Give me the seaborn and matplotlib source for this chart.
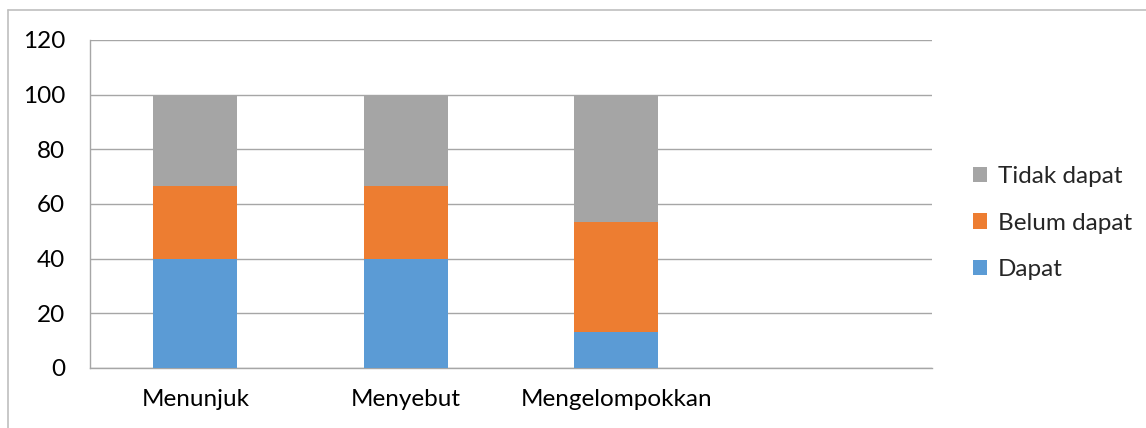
import matplotlib
matplotlib.use("Agg")
import matplotlib.pyplot as plt
import numpy as np
import pandas as pd
import seaborn as sns
from matplotlib.lines import Line2D
from matplotlib.patches import Patch
from matplotlib.ticker import FixedLocator

categories = ["Menunjuk", "Menyebut", "Mengelompokkan"]
slot_order = ["Menunjuk", "Menyebut", "Mengelompokkan", " "]
dapat = [40.0, 40.0, 13.3]
belum_dapat = [26.7, 26.7, 40.0]
tidak_dapat = [33.3, 33.3, 46.7]
series_names = ["Dapat", "Belum dapat", "Tidak dapat"]
series_colors = ["#5B9BD5", "#ED7D31", "#A5A5A5"]
y_ticks = [0, 20, 40, 60, 80, 100, 120]

GRID = "#A6A6A6"
TEXT = "#000000"
FS = 17.5

sns.set_theme(style="white")
plt.rcParams["font.family"] = ["Lato", "DejaVu Sans"]

fig = plt.figure(figsize=(11.46, 4.28), dpi=100)
ax = fig.add_axes([90 / 1146, 1 - 368 / 428, (932 - 90) / 1146, (368 - 40) / 428])

# stacked by drawing cumulative totals from the top segment down
stack = np.cumsum(np.array([dapat, belum_dapat, tidak_dapat]), axis=0)
for i in [2, 1, 0]:
    df = pd.DataFrame({"cat": categories, "val": stack[i]})
    sns.barplot(data=df, x="cat", y="val", order=slot_order, color=series_colors[i],
                width=0.4, saturation=1, linewidth=0, ax=ax, zorder=3)

ax.set_xlim(-0.5, 3.5)
ax.set_ylim(0, 120)
ax.set_yticks(y_ticks)
ax.set_xlabel("")
ax.set_ylabel("")
ax.grid(axis="y", color=GRID, linewidth=1.0, zorder=0)
ax.set_axisbelow(True)

for side in ["top", "right"]:
    ax.spines[side].set_visible(False)
for side in ["left", "bottom"]:
    ax.spines[side].set_color(GRID)
    ax.spines[side].set_linewidth(1.0)

ax.xaxis.set_minor_locator(FixedLocator([-0.5, 0.5, 1.5, 2.5, 3.5]))
ax.tick_params(axis="x", which="major", length=0, pad=15, labelsize=FS, labelcolor=TEXT)
ax.tick_params(axis="x", which="minor", length=5, width=1, color=GRID, direction="out")
ax.tick_params(axis="y", length=6, width=1, color=GRID, direction="out", pad=12,
               labelsize=FS, labelcolor=TEXT)

handles = [Patch(facecolor=series_colors[i], edgecolor="none", label=series_names[i]) for i in [2, 1, 0]]
fig.legend(handles=handles, loc="center left", bbox_to_anchor=(963 / 1146, 1 - 223 / 428),
           frameon=False, fontsize=FS, handlelength=0.6, handleheight=0.6,
           handletextpad=0.45, labelspacing=1.05, borderaxespad=0)

# outer chart border (only top and left visible in the crop)
fig.add_artist(Line2D([8 / 1146, 8 / 1146], [0, 1 - 10 / 428], color="#BFBFBF", linewidth=1.2,
                      transform=fig.transFigure))
fig.add_artist(Line2D([8 / 1146, 1], [1 - 10 / 428, 1 - 10 / 428], color="#BFBFBF", linewidth=1.2,
                      transform=fig.transFigure))

fig.savefig("out.png", dpi=100)
